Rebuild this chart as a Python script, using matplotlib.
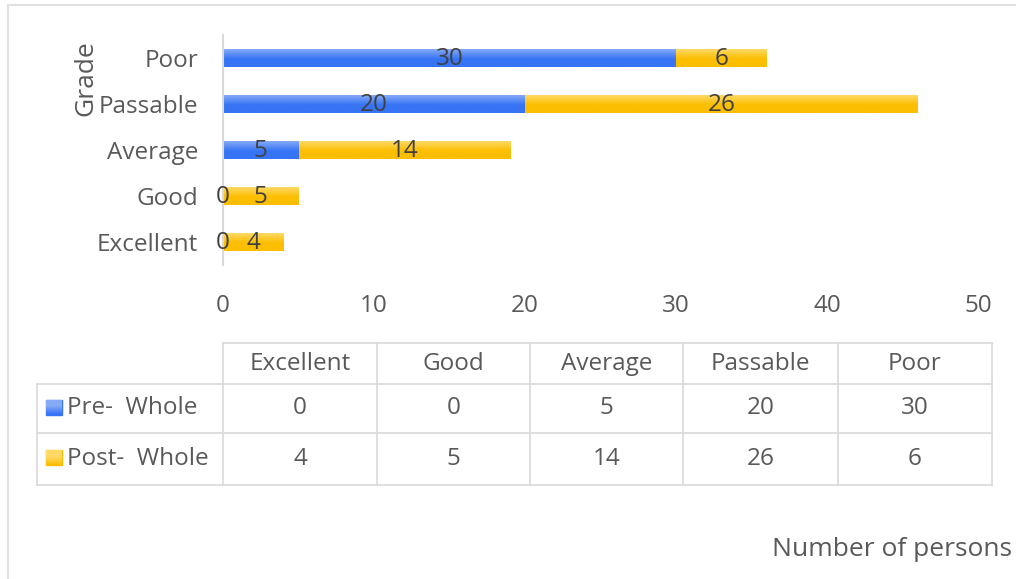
import numpy as np
import matplotlib.pyplot as plt
from matplotlib.colors import LinearSegmentedColormap
from matplotlib.patches import Rectangle

plt.rcParams["font.family"] = ["Open Sans", "DejaVu Sans"]

grades = ["Excellent", "Good", "Average", "Passable", "Poor"]
pre_whole = [0, 0, 5, 20, 30]
post_whole = [4, 5, 14, 26, 6]
series_names = ["Pre-  Whole", "Post-  Whole"]

BLUE = "#3674f5"
BLUE_TOP = "#86aaf7"
GOLD = "#fcbe00"
GOLD_TOP = "#ffd966"
TEXT = "#595959"
LABEL = "#404040"
GRID = "#d9d9d9"
FS = 17.5

W, H = 1016, 579
fig = plt.figure(figsize=(W / 100, H / 100), dpi=100)
ax = fig.add_axes([223 / W, 1 - 265 / H, 755 / W, 230 / H])

# overlay in pixel coordinates for table, frame and free labels
ov = fig.add_axes([0, 0, 1, 1], zorder=-1)
ov.set_xlim(0, W)
ov.set_ylim(H, 0)
ov.axis("off")


def gradient_bar(ax, patch, top, base):
    cmap = LinearSegmentedColormap.from_list("g", [(0, top), (0.55, base), (1, base)])
    x0, y0 = patch.get_x(), patch.get_y()
    w, h = patch.get_width(), patch.get_height()
    if w <= 0:
        return
    grad = np.linspace(0, 1, 64).reshape(-1, 1)
    im = ax.imshow(grad, cmap=cmap, aspect="auto", extent=(x0, x0 + w, y0, y0 + h),
                   origin="upper", zorder=2)
    im.set_clip_path(patch)


y = np.arange(len(grades))
bar_h = 0.37
pre_bars = ax.barh(y, pre_whole, height=bar_h, color=BLUE, zorder=2)
post_bars = ax.barh(y, post_whole, left=pre_whole, height=bar_h, color=GOLD, zorder=2)
for p in pre_bars:
    gradient_bar(ax, p, BLUE_TOP, BLUE)
for p in post_bars:
    gradient_bar(ax, p, GOLD_TOP, GOLD)

for i in range(len(grades)):
    ax.text(pre_whole[i] / 2, y[i] - 0.02, str(pre_whole[i]), ha="center", va="center",
            fontsize=FS, color=LABEL, zorder=4)
    ax.text(pre_whole[i] + post_whole[i] / 2, y[i] - 0.02, str(post_whole[i]), ha="center",
            va="center", fontsize=FS, color=LABEL, zorder=4)

ax.set_xlim(0, 50)
ax.set_ylim(-0.5, len(grades) - 0.5)
ax.set_yticks(y)
ax.set_yticklabels(grades)
ax.set_xticks(range(0, 51, 10))
ax.tick_params(axis="both", length=0, labelsize=FS, labelcolor=TEXT)
ax.tick_params(axis="y", pad=18)
ax.tick_params(axis="x", pad=21)
for side in ["top", "right", "bottom"]:
    ax.spines[side].set_visible(False)
ax.spines["left"].set_color(GRID)
ax.spines["left"].set_linewidth(1.5)
ax.patch.set_alpha(0)

ov.text(86, 78, "Grade", rotation=90, ha="center", va="center", fontsize=19, color=TEXT)
ov.text(1012, 550, "Number of persons", ha="right", va="center", fontsize=19, color=TEXT)

# outer chart frame
ov.plot([8, 8], [5, H], color="#e0e0e0", lw=1.5)
ov.plot([8, W], [5, 5], color="#e0e0e0", lw=1.5)

# data table under the axis
col_x = [37, 223, 377, 530, 683, 838, 992]
row_y = [343, 384, 433, 485]
lc = dict(color=GRID, lw=1.2)
ov.plot([col_x[1], col_x[-1]], [row_y[0], row_y[0]], **lc)
for ry in row_y[1:]:
    ov.plot([col_x[0], col_x[-1]], [ry, ry], **lc)
ov.plot([col_x[0], col_x[0]], [row_y[1], row_y[-1]], **lc)
for cx in col_x[1:]:
    ov.plot([cx, cx], [row_y[0], row_y[-1]], **lc)

for j, g in enumerate(grades):
    cx = (col_x[j + 1] + col_x[j + 2]) / 2
    ov.text(cx, (row_y[0] + row_y[1]) / 2, g, ha="center", va="center", fontsize=FS, color=TEXT)
    ov.text(cx, (row_y[1] + row_y[2]) / 2, str(pre_whole[j]), ha="center", va="center",
            fontsize=FS, color=TEXT)
    ov.text(cx, (row_y[2] + row_y[3]) / 2, str(post_whole[j]), ha="center", va="center",
            fontsize=FS, color=TEXT)

for k, (name, c, ct) in enumerate(zip(series_names, [BLUE, GOLD], [BLUE_TOP, GOLD_TOP])):
    cy = (row_y[k + 1] + row_y[k + 2]) / 2
    sq = Rectangle((46, cy - 9), 16, 15, color=c)
    ov.add_patch(sq)
    gradient_bar(ov, sq, c, ct)
    ov.text(67, cy, name, ha="left", va="center", fontsize=FS, color=TEXT)

fig.savefig("out.png", dpi=100)
